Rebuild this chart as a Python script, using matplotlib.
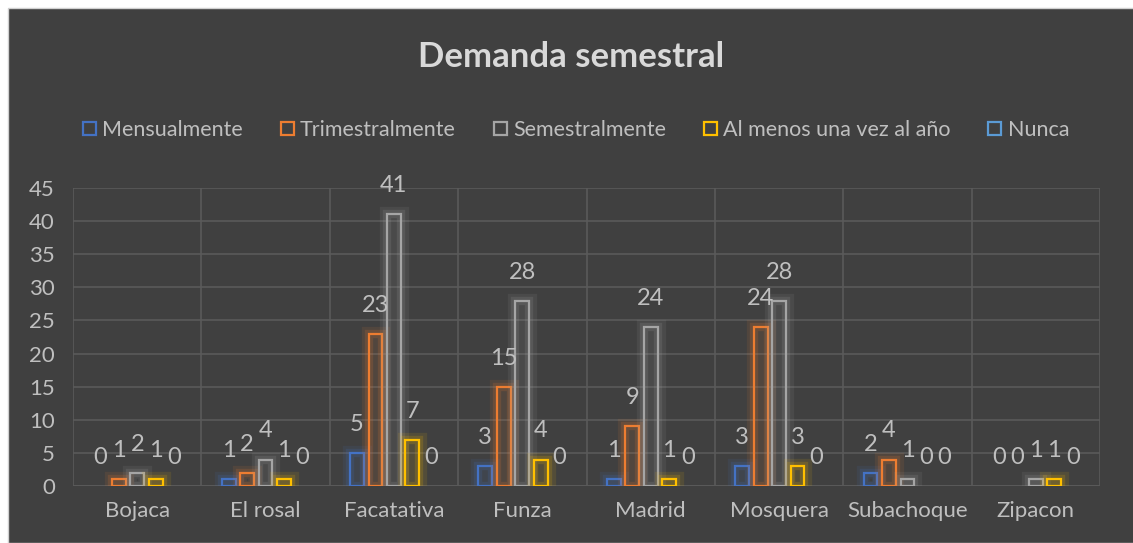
import matplotlib
matplotlib.use("Agg")
import matplotlib.pyplot as plt
import matplotlib.patheffects as pe
from matplotlib.patches import Rectangle
import numpy as np

categories = ["Bojaca", "El rosal", "Facatativa", "Funza", "Madrid", "Mosquera", "Subachoque", "Zipacon"]
series_names = ["Mensualmente", "Trimestralmente", "Semestralmente", "Al menos una vez al año", "Nunca"]
mensualmente = [0, 1, 5, 3, 1, 3, 2, 0]
trimestralmente = [1, 2, 23, 15, 9, 24, 4, 0]
semestralmente = [2, 4, 41, 28, 24, 28, 1, 1]
al_menos_anual = [1, 1, 7, 4, 1, 3, 0, 1]
nunca = [0, 0, 0, 0, 0, 0, 0, 0]
series_values = [mensualmente, trimestralmente, semestralmente, al_menos_anual, nunca]
colors = ["#4472C4", "#ED7D31", "#A5A5A5", "#FFC000", "#5B9BD5"]

plt.rcParams['font.family'] = ['Lato', 'DejaVu Sans']
BG = "#404040"
TXT = "#bfbfbf"

fig = plt.figure(figsize=(11.33, 5.43), dpi=100)
fig.patch.set_facecolor("white")
fig.patches.append(Rectangle((8/1133, 0), 1, 1 - 8/543, transform=fig.transFigure,
                             facecolor=BG, edgecolor="#d0d0d0", linewidth=1.0, zorder=-10))

ax = fig.add_axes([73/1133, 1 - 486/543, (1100-73)/1133, (486-188)/543])
ax.set_facecolor(BG)

n = len(categories)
x = np.arange(n)
step = 0.144
width = 0.108
for i, (name, vals, c) in enumerate(zip(series_names, series_values, colors)):
    pos = x + (i - 2) * step
    glow = [pe.Stroke(linewidth=11, foreground=c, alpha=0.10),
            pe.Stroke(linewidth=6, foreground=c, alpha=0.16),
            pe.Normal()]
    bars = ax.bar(pos, vals, width=width, facecolor="none", edgecolor=c,
                  linewidth=1.6, label=name, zorder=3)
    for b, v in zip(bars, vals):
        if v > 0:
            b.set_path_effects(glow)
        else:
            b.set_visible(False)
        ax.annotate(str(v), (b.get_x() + b.get_width()/2, v), xytext=(0, 13),
                    textcoords="offset points", ha="center", va="bottom",
                    fontsize=17, color=TXT, zorder=4)

ax.set_xlim(-0.5, n - 0.5)
ax.set_ylim(0, 45)
ax.set_yticks(range(0, 46, 5))
ax.set_xticks(x)
ax.set_xticklabels(categories)
ax.set_xticks(np.arange(-0.5, n, 1), minor=True)
ax.tick_params(axis="x", which="both", length=0, colors=TXT, labelsize=16, pad=11)
ax.tick_params(axis="y", length=0, colors=TXT, labelsize=16, pad=13)
ax.grid(axis="y", color="#5a5a5a", linewidth=1.2, zorder=0)
ax.grid(axis="x", which="minor", color="#5a5a5a", linewidth=1.2, zorder=0)
ax.grid(axis="x", which="major", visible=False)
for s in ax.spines.values():
    s.set_visible(False)
ax.axhline(0, color="#5a5a5a", linewidth=1.2, zorder=1)

fig.text(571/1133, 1 - 57/543, "Demanda semestral", ha="center", va="center",
         fontsize=25, fontweight="bold", color="#d9d9d9")

handles = [Rectangle((0, 0), 1, 1, facecolor="none", edgecolor=c, linewidth=1.6) for c in colors]
leg = fig.legend(handles, series_names, loc="center", bbox_to_anchor=(576/1133, 1 - 130/543),
                 ncol=5, frameon=False, fontsize=15.5, handlelength=0.6, handleheight=0.6,
                 handletextpad=0.3, columnspacing=1.75, labelcolor=TXT)

fig.savefig("out.png", dpi=100, facecolor=fig.get_facecolor())
